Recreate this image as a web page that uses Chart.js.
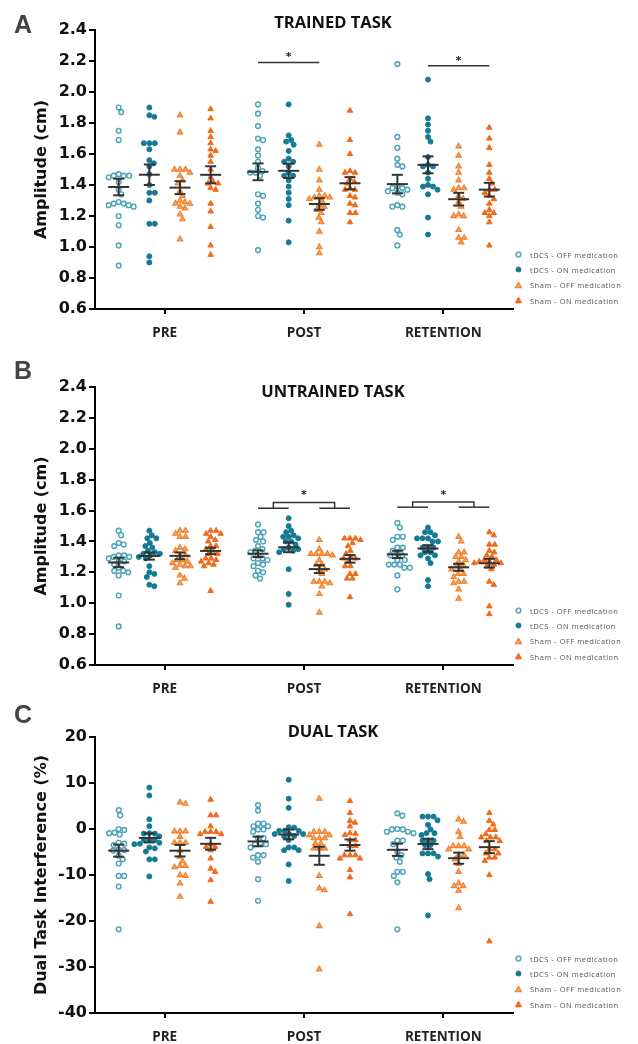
<!DOCTYPE html>
<html>
<head>
<meta charset="utf-8">
<script src="https://cdn.jsdelivr.net/npm/chart.js@4.4.0/dist/chart.umd.min.js"></script>
<style>
  html, body { margin: 0; padding: 0; background: #fff; }
  #page { position: relative; width: 638px; height: 1044px; overflow: hidden; }
  canvas { position: absolute; left: 0; }
  .letter { position: absolute; left: 14px; font: bold 25px "Liberation Sans", Arial, sans-serif; color: #444; line-height: 25px; }
  .title { position: absolute; left: 233px; width: 200px; text-align: center; font: bold 16.5px "Open Sans", sans-serif; color: #111; line-height: 16.5px; white-space: nowrap; }
  .legend { position: absolute; left: 514px; }
  .legend div { height: 15.3px; display: flex; align-items: center; font: 7.5px "Open Sans", sans-serif; letter-spacing: 0.5px; color: #555; white-space: nowrap; }
  .legend svg { width: 9px; height: 9px; margin-right: 7px; flex: none; }
</style>
</head>
<body>
<div id="page">
  <canvas id="chartA" width="638" height="345" style="top:0px"></canvas>
  <canvas id="chartB" width="638" height="360" style="top:345px"></canvas>
  <canvas id="chartC" width="638" height="339" style="top:705px"></canvas>
  <div class="letter" style="top:12px">A</div>
  <div class="letter" style="top:358px">B</div>
  <div class="letter" style="top:702px">C</div>
  <div class="title" style="top:14px">TRAINED TASK</div>
  <div class="title" style="top:383px">UNTRAINED TASK</div>
  <div class="title" style="top:723px">DUAL TASK</div>
  <div class="legend" id="legendA" style="top:247px"></div>
  <div class="legend" id="legendB" style="top:603px"></div>
  <div class="legend" id="legendC" style="top:951px"></div>
</div>
<script>
const timepoints = ['PRE', 'POST', 'RETENTION'];
const groupNames = ['tDCS - OFF medication', 'tDCS - ON medication', 'Sham - OFF medication', 'Sham - ON medication'];

// trained task amplitude (cm), one list per timepoint
const trainedTdcsOff = [
  [1.90, 1.87, 1.75, 1.69, 1.47, 1.46, 1.46, 1.46, 1.45, 1.42, 1.37, 1.34, 1.29, 1.28, 1.28, 1.27, 1.27, 1.26, 1.20, 1.14, 1.01, 0.88],
  [1.92, 1.86, 1.78, 1.70, 1.69, 1.63, 1.59, 1.55, 1.51, 1.49, 1.48, 1.48, 1.46, 1.34, 1.33, 1.28, 1.24, 1.20, 1.19, 0.98],
  [2.18, 1.71, 1.64, 1.57, 1.53, 1.52, 1.39, 1.38, 1.38, 1.37, 1.36, 1.35, 1.34, 1.27, 1.26, 1.26, 1.11, 1.08, 1.01]
];
const trainedTdcsOn = [
  [1.90, 1.85, 1.84, 1.67, 1.67, 1.67, 1.63, 1.56, 1.54, 1.52, 1.47, 1.40, 1.35, 1.35, 1.30, 1.15, 1.15, 0.94, 0.90],
  [1.92, 1.72, 1.69, 1.68, 1.66, 1.62, 1.57, 1.55, 1.55, 1.52, 1.48, 1.46, 1.46, 1.43, 1.39, 1.35, 1.31, 1.27, 1.17, 1.03],
  [2.08, 1.83, 1.79, 1.75, 1.71, 1.68, 1.58, 1.53, 1.52, 1.52, 1.48, 1.44, 1.40, 1.39, 1.39, 1.37, 1.34, 1.19, 1.08]
];
const trainedShamOff = [
  [1.85, 1.74, 1.50, 1.50, 1.50, 1.48, 1.46, 1.43, 1.41, 1.36, 1.33, 1.30, 1.29, 1.28, 1.28, 1.26, 1.25, 1.21, 1.18, 1.05],
  [1.66, 1.50, 1.43, 1.37, 1.33, 1.33, 1.32, 1.32, 1.31, 1.30, 1.27, 1.26, 1.24, 1.22, 1.19, 1.16, 1.10, 1.00, 0.96],
  [1.65, 1.59, 1.52, 1.48, 1.43, 1.38, 1.38, 1.37, 1.33, 1.31, 1.29, 1.26, 1.21, 1.20, 1.20, 1.11, 1.06, 1.06, 1.03]
];
const trainedShamOn = [
  [1.89, 1.83, 1.75, 1.71, 1.67, 1.63, 1.62, 1.59, 1.55, 1.50, 1.45, 1.42, 1.41, 1.41, 1.38, 1.37, 1.28, 1.23, 1.13, 1.01, 0.95],
  [1.88, 1.69, 1.60, 1.49, 1.48, 1.48, 1.44, 1.42, 1.41, 1.38, 1.37, 1.37, 1.33, 1.32, 1.28, 1.27, 1.22, 1.22, 1.16],
  [1.77, 1.70, 1.64, 1.53, 1.48, 1.44, 1.41, 1.37, 1.37, 1.35, 1.33, 1.31, 1.28, 1.24, 1.22, 1.22, 1.20, 1.16, 1.01]
];

// untrained task amplitude (cm)
const untrainedTdcsOff = [
  [1.47, 1.44, 1.39, 1.38, 1.37, 1.31, 1.31, 1.30, 1.30, 1.29, 1.27, 1.27, 1.25, 1.23, 1.21, 1.21, 1.20, 1.18, 1.05, 0.85],
  [1.51, 1.46, 1.46, 1.43, 1.41, 1.40, 1.37, 1.35, 1.34, 1.33, 1.31, 1.29, 1.29, 1.28, 1.26, 1.25, 1.24, 1.21, 1.20, 1.18, 1.16],
  [1.52, 1.49, 1.43, 1.43, 1.41, 1.36, 1.36, 1.34, 1.32, 1.31, 1.31, 1.28, 1.28, 1.25, 1.25, 1.25, 1.23, 1.23, 1.18, 1.09]
];
const untrainedTdcsOn = [
  [1.47, 1.44, 1.42, 1.42, 1.39, 1.37, 1.36, 1.34, 1.33, 1.32, 1.32, 1.31, 1.30, 1.29, 1.24, 1.20, 1.19, 1.17, 1.12, 1.11],
  [1.55, 1.50, 1.47, 1.46, 1.44, 1.43, 1.43, 1.42, 1.40, 1.40, 1.38, 1.36, 1.35, 1.35, 1.34, 1.33, 1.22, 1.06, 0.99],
  [1.49, 1.46, 1.46, 1.44, 1.42, 1.42, 1.42, 1.40, 1.40, 1.36, 1.36, 1.36, 1.33, 1.33, 1.31, 1.31, 1.29, 1.26, 1.15, 1.11]
];
const untrainedShamOff = [
  [1.47, 1.47, 1.45, 1.43, 1.43, 1.36, 1.35, 1.34, 1.31, 1.31, 1.28, 1.28, 1.27, 1.26, 1.25, 1.24, 1.24, 1.23, 1.18, 1.16, 1.13],
  [1.41, 1.35, 1.32, 1.32, 1.32, 1.32, 1.31, 1.28, 1.25, 1.25, 1.22, 1.22, 1.19, 1.14, 1.14, 1.14, 1.13, 1.11, 1.06, 0.94],
  [1.43, 1.40, 1.33, 1.33, 1.30, 1.30, 1.28, 1.27, 1.25, 1.24, 1.22, 1.22, 1.19, 1.19, 1.17, 1.14, 1.14, 1.13, 1.09, 1.03]
];
const untrainedShamOn = [
  [1.47, 1.47, 1.45, 1.45, 1.43, 1.41, 1.40, 1.37, 1.37, 1.35, 1.34, 1.32, 1.32, 1.29, 1.29, 1.28, 1.27, 1.26, 1.25, 1.24, 1.08],
  [1.42, 1.42, 1.42, 1.41, 1.39, 1.37, 1.34, 1.32, 1.30, 1.29, 1.29, 1.27, 1.24, 1.24, 1.19, 1.19, 1.16, 1.16, 1.04],
  [1.46, 1.44, 1.38, 1.38, 1.34, 1.33, 1.31, 1.30, 1.28, 1.28, 1.27, 1.27, 1.26, 1.26, 1.25, 1.24, 1.22, 1.14, 1.12, 0.98, 0.93]
];

// dual task interference (%)
const dualTdcsOff = [
  [4.1, 3.0, 0.0, -0.2, -0.8, -0.9, -1.2, -3.0, -3.2, -3.5, -4.5, -4.6, -4.7, -5.8, -6.6, -7.5, -10.2, -10.2, -12.5, -21.8],
  [5.2, 4.0, 1.2, 1.2, 0.6, 0.6, -0.1, -0.1, -0.6, -2.0, -2.0, -3.0, -3.3, -3.3, -4.0, -5.7, -5.7, -6.2, -7.1, -10.9, -15.6],
  [3.4, 2.9, 0.0, -0.1, -0.1, -0.6, -0.6, -0.9, -2.5, -2.5, -3.3, -4.9, -5.7, -6.2, -7.1, -9.3, -9.3, -10.2, -11.6, -21.8]
];
const dualTdcsOn = [
  [9.0, 7.3, 2.1, 0.6, -0.9, -1.0, -1.0, -1.6, -2.4, -2.4, -2.4, -3.0, -3.2, -3.3, -4.0, -4.2, -4.9, -6.6, -6.6, -10.3],
  [10.7, 6.6, 4.6, 0.4, 0.3, -0.4, -0.4, -0.4, -1.1, -1.1, -1.1, -1.5, -1.6, -2.4, -4.0, -4.0, -4.6, -4.6, -7.7, -11.3],
  [2.7, 2.7, 2.7, 1.9, 0.9, -0.1, -0.9, -0.9, -1.3, -2.5, -2.5, -2.5, -3.5, -3.5, -5.3, -5.3, -5.3, -6.0, -9.8, -10.9, -18.8]
];
const dualShamOff = [
  [5.8, 5.5, -0.5, -0.5, -0.5, -1.7, -3.0, -3.0, -3.0, -4.7, -6.0, -7.0, -8.0, -8.0, -8.3, -10.0, -10.2, -11.8, -14.7],
  [6.6, -0.6, -0.6, -0.6, -1.3, -1.3, -2.0, -2.0, -2.0, -3.1, -3.1, -4.2, -4.2, -4.2, -10.2, -12.9, -13.3, -21.1, -30.5],
  [2.1, 1.6, -0.6, -1.7, -3.7, -3.7, -3.7, -4.4, -4.4, -5.7, -5.7, -6.6, -7.6, -9.3, -11.8, -12.4, -12.4, -13.4, -17.2]
];
const dualShamOn = [
  [6.4, 3.0, 3.0, 0.6, -0.6, -0.6, -0.6, -1.1, -1.1, -3.3, -3.9, -3.9, -4.6, -6.4, -8.6, -9.3, -11.1, -15.8],
  [6.1, 3.5, 1.8, 1.4, 0.6, -0.9, -1.0, -1.3, -2.4, -2.4, -3.7, -3.7, -5.7, -5.7, -5.7, -6.4, -6.4, -8.9, -10.5, -18.5],
  [3.5, 1.8, 1.0, -0.2, -0.2, -1.1, -1.8, -1.8, -1.8, -2.6, -2.6, -4.4, -4.4, -5.3, -5.3, -6.2, -6.2, -6.9, -10.0, -24.4]
];

// significance brackets
const trainedSig = [
  { time: 1, from: 0, to: 2, level: 2.19 },
  { time: 2, from: 1, to: 3, level: 2.17 }
];
const untrainedSig = [
  { time: 1, left: [0, 1], right: [2, 3], level: 1.615, top: 1.652 },
  { time: 2, left: [0, 1], right: [2, 3], level: 1.622, top: 1.655 }
];

const groupOffsets = [-0.33, -0.11, 0.11, 0.33];
const markers = [
  { style: 'circle', radius: 2.4, fill: '#ffffff', stroke: '#4aa3b8', width: 1.4 },
  { style: 'circle', radius: 2.5, fill: '#147b95', stroke: '#147b95', width: 1 },
  { style: 'triangle', radius: 3.2, fill: '#f8a25e', stroke: '#f0802c', width: 1.1 },
  { style: 'triangle', radius: 3.2, fill: '#f26a1c', stroke: '#f26a1c', width: 1 }
];

const PLOT_LEFT = 95, PLOT_RIGHT = 513;
const xPx = (PLOT_RIGHT - PLOT_LEFT) / 3;

function mean(a) { return a.reduce((s, v) => s + v, 0) / a.length; }
function sem(a) {
  const m = mean(a);
  const sd = Math.sqrt(a.reduce((s, v) => s + (v - m) * (v - m), 0) / (a.length - 1));
  return sd / Math.sqrt(a.length);
}

// simple beeswarm: push points sideways until they stop overlapping
function swarm(values, yPx, diam) {
  const order = values.map((v, i) => i).sort((a, b) => values[b] - values[a]);
  const placed = [];
  const dx = new Array(values.length).fill(0);
  order.forEach(i => {
    const py = values[i] * yPx;
    for (let k = 0; k < 400; k++) {
      const c = k === 0 ? 0 : (k % 2 ? 1 : -1) * Math.ceil(k / 2) * 0.5;
      if (placed.every(p => (p.x - c) ** 2 + (p.y - py) ** 2 >= diam * diam)) {
        dx[i] = c;
        break;
      }
    }
    placed.push({ x: dx[i], y: py });
  });
  return dx;
}

const meanSemPlugin = {
  id: 'meanSem',
  afterDatasetsDraw(chart, args, opts) {
    const { ctx, scales: { x, y } } = chart;
    ctx.save();
    ctx.strokeStyle = '#333';
    ctx.lineWidth = 2;
    const seg = (x1, y1, x2, y2) => { ctx.beginPath(); ctx.moveTo(x1, y1); ctx.lineTo(x2, y2); ctx.stroke(); };
    opts.series.forEach((perTime, g) => perTime.forEach((vals, t) => {
      const m = mean(vals), s = sem(vals);
      const cx = x.getPixelForValue(t + groupOffsets[g]);
      const ym = y.getPixelForValue(m), yt = y.getPixelForValue(m + s), yb = y.getPixelForValue(m - s);
      seg(cx - 10.5, ym, cx + 10.5, ym);
      seg(cx - 5.5, yt, cx + 5.5, yt);
      seg(cx - 5.5, yb, cx + 5.5, yb);
      seg(cx, yt, cx, yb);
    }));
    ctx.restore();
  }
};

const sigPlugin = {
  id: 'sig',
  afterDatasetsDraw(chart, args, opts) {
    const { ctx, scales: { x, y } } = chart;
    const gx = (t, g) => x.getPixelForValue(t + groupOffsets[g]);
    ctx.save();
    ctx.strokeStyle = '#333';
    ctx.fillStyle = '#222';
    ctx.lineWidth = 1.5;
    ctx.font = 'bold 11px "DejaVu Sans"';
    ctx.textAlign = 'center';
    ctx.textBaseline = 'middle';
    const seg = (x1, y1, x2, y2) => { ctx.beginPath(); ctx.moveTo(x1, y1); ctx.lineTo(x2, y2); ctx.stroke(); };
    (opts.items || []).forEach(b => {
      if (b.left) {
        const lv = y.getPixelForValue(b.level), tv = y.getPixelForValue(b.top);
        const l1 = gx(b.time, b.left[0]), l2 = gx(b.time, b.left[1]);
        const r1 = gx(b.time, b.right[0]), r2 = gx(b.time, b.right[1]);
        const lm = (l1 + l2) / 2, rm = (r1 + r2) / 2;
        seg(l1, lv, l2, lv);
        seg(r1, lv, r2, lv);
        ctx.beginPath();
        ctx.moveTo(lm, lv); ctx.lineTo(lm, tv); ctx.lineTo(rm, tv); ctx.lineTo(rm, lv);
        ctx.stroke();
        ctx.fillText('*', (lm + rm) / 2, tv - 7);
      } else {
        const lv = y.getPixelForValue(b.level);
        const a = gx(b.time, b.from), c = gx(b.time, b.to);
        seg(a, lv, c, lv);
        ctx.fillText('*', (a + c) / 2, lv - 5);
      }
    });
    ctx.restore();
  }
};

function buildPanel(id, cfg) {
  const plotH = cfg.bottom - cfg.top;
  const yPx = plotH / (cfg.max - cfg.min);
  const datasets = cfg.series.map((perTime, g) => {
    const pts = [];
    perTime.forEach((vals, t) => {
      const dx = swarm(vals, yPx, 5.2);
      vals.forEach((v, i) => pts.push({ x: t + groupOffsets[g] + dx[i] / xPx, y: v }));
    });
    const mk = markers[g];
    return {
      label: groupNames[g],
      data: pts,
      pointStyle: mk.style,
      pointRadius: mk.radius,
      pointHoverRadius: mk.radius,
      backgroundColor: mk.fill,
      borderColor: mk.stroke,
      borderWidth: mk.width,
      showLine: false
    };
  });

  new Chart(document.getElementById(id), {
    type: 'scatter',
    data: { datasets },
    plugins: [meanSemPlugin, sigPlugin],
    options: {
      responsive: false,
      devicePixelRatio: 1,
      animation: false,
      layout: { padding: { left: 20, right: 638 - PLOT_RIGHT, top: cfg.top, bottom: 0 } },
      plugins: {
        legend: { display: false },
        tooltip: { enabled: false },
        meanSem: { series: cfg.series },
        sig: { items: cfg.sig }
      },
      scales: {
        x: {
          type: 'linear',
          min: -0.5,
          max: 2.5,
          afterBuildTicks: axis => { axis.ticks = timepoints.map((_, i) => ({ value: i })); },
          afterFit: s => { s.height = cfg.height - cfg.bottom; },
          ticks: {
            callback: v => timepoints[v],
            autoSkip: false,
            maxRotation: 0,
            padding: 11,
            color: '#222',
            font: { family: 'Open Sans', weight: 'bold', size: 13.5 }
          },
          grid: { drawOnChartArea: false, drawTicks: true, tickLength: 5, color: '#000', lineWidth: 2 },
          border: { display: true, color: '#000', width: 2 }
        },
        y: {
          min: cfg.min,
          max: cfg.max,
          afterFit: s => { s.width = PLOT_LEFT - 20; },
          ticks: {
            stepSize: cfg.step,
            padding: 2,
            color: '#111',
            callback: v => cfg.fmt(v),
            font: { family: 'DejaVu Sans', weight: 'bold', size: 16 }
          },
          grid: { drawOnChartArea: false, drawTicks: true, tickLength: 6, color: '#000', lineWidth: 2 },
          border: { display: true, color: '#000', width: 2 },
          title: {
            display: true,
            text: cfg.yTitle,
            color: '#111',
            padding: { top: 12, bottom: 0 },
            font: { family: 'DejaVu Sans', weight: 'bold', size: 16 }
          }
        }
      }
    }
  });
}

function buildLegend(id) {
  const el = document.getElementById(id);
  groupNames.forEach((name, g) => {
    const mk = markers[g];
    const shape = mk.style === 'circle'
      ? `<circle cx="4.5" cy="4.5" r="${mk.radius}" fill="${mk.fill}" stroke="${mk.stroke}" stroke-width="${mk.width}"/>`
      : `<polygon points="4.5,1.3 7.6,6.8 1.4,6.8" fill="${mk.fill}" stroke="${mk.stroke}" stroke-width="${mk.width}"/>`;
    const row = document.createElement('div');
    row.innerHTML = `<svg viewBox="0 0 9 9">${shape}</svg><span>${name}</span>`;
    el.appendChild(row);
  });
}

const fmt1 = v => v.toFixed(1);
const fmt0 = v => String(Math.round(v));

buildPanel('chartA', {
  series: [trainedTdcsOff, trainedTdcsOn, trainedShamOff, trainedShamOn],
  sig: trainedSig, min: 0.6, max: 2.4, step: 0.2, fmt: fmt1,
  yTitle: 'Amplitude (cm)', height: 345, top: 30, bottom: 309
});
buildPanel('chartB', {
  series: [untrainedTdcsOff, untrainedTdcsOn, untrainedShamOff, untrainedShamOn],
  sig: untrainedSig, min: 0.6, max: 2.4, step: 0.2, fmt: fmt1,
  yTitle: 'Amplitude (cm)', height: 360, top: 42, bottom: 320
});
buildPanel('chartC', {
  series: [dualTdcsOff, dualTdcsOn, dualShamOff, dualShamOn],
  sig: [], min: -40, max: 20, step: 10, fmt: fmt0,
  yTitle: 'Dual Task Interference (%)', height: 339, top: 32, bottom: 308
});

buildLegend('legendA');
buildLegend('legendB');
buildLegend('legendC');
</script>
</body>
</html>
